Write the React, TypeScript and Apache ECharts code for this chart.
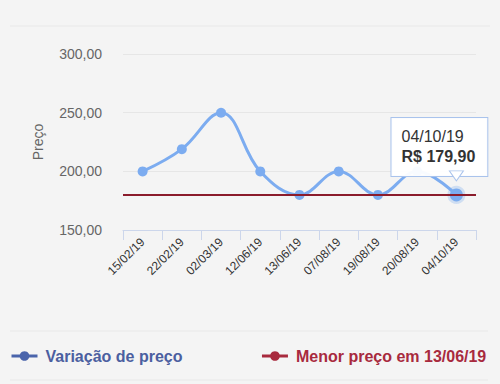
import React, { useEffect, useRef } from "react";
import * as echarts from "echarts";

const categories = ["15/02/19", "22/02/19", "02/03/19", "12/06/19", "13/06/19", "07/08/19", "19/08/19", "20/08/19", "04/10/19"];
const prices = [199.9, 218.9, 249.9, 199.9, 179.9, 199.9, 179.9, 199.9, 179.9];
const lowestPrice = 179.9;
const yTicks = [150, 200, 250, 300];
const seriesNames = ["Variação de preço", "Menor preço em 13/06/19"];

const FONT = "'Liberation Sans', Arial, sans-serif";
const fmt = (v: number) => v.toFixed(2).replace(".", ",");

export default function App() {
  const ref = useRef<HTMLDivElement>(null);
  useEffect(() => {
    const chart = echarts.init(ref.current!, null, { renderer: "svg" });
    const last = prices.length - 1;
    const data = prices.map((v, i) =>
      i === last
        ? {
            value: v,
            symbolSize: 13,
            itemStyle: { color: "#7cacf0", borderColor: "rgba(124,172,240,0.3)", borderWidth: 5 },
            label: {
              show: true,
              position: "top",
              offset: [-17, -5],
              formatter: () => `{d|${categories[i]}}\n{v|R$ ${fmt(v)}}`,
              backgroundColor: "rgba(255,255,255,0.95)",
              borderColor: "#a9c3ec",
              borderWidth: 1,
              padding: [9, 12, 9, 10],
              align: "center",
              rich: {
                d: { fontFamily: FONT, fontSize: 16, color: "#333", lineHeight: 20, align: "left" },
                v: { fontFamily: FONT, fontSize: 16, fontWeight: "bold", color: "#333", lineHeight: 20, align: "left" },
              },
            },
          }
        : v
    );
    chart.setOption({
      animation: false,
      backgroundColor: "#f4f4f4",
      textStyle: { fontFamily: FONT },
      grid: { left: 123, right: 24, top: 54, bottom: 154 },
      xAxis: {
        type: "category",
        data: categories,
        boundaryGap: true,
        axisLine: { lineStyle: { color: "#ccd6eb" } },
        axisTick: { show: true, length: 10, lineStyle: { color: "#ccd6eb" } },
        axisLabel: { rotate: 45, fontSize: 12, color: "#333", margin: 10, fontFamily: FONT },
      },
      yAxis: {
        type: "value",
        min: yTicks[0],
        max: yTicks[yTicks.length - 1],
        interval: 50,
        name: "Preço",
        nameLocation: "middle",
        nameGap: 78,
        nameTextStyle: { fontSize: 14, color: "#666", fontFamily: FONT },
        axisLabel: { formatter: (v: number) => fmt(v), fontSize: 14, color: "#666", margin: 21, fontFamily: FONT },
        splitLine: { lineStyle: { color: "#e6e6e6" } },
        axisLine: { show: false },
        axisTick: { show: false },
      },
      legend: {
        left: 5,
        top: 343,
        itemGap: 78,
        itemWidth: 26,
        itemHeight: 12,
        textStyle: { fontSize: 16, fontWeight: "bold", fontFamily: FONT, padding: [0, 0, 0, 3] },
        data: [
          { name: seriesNames[0], itemStyle: { color: "#4a64ab" }, lineStyle: { color: "#4a64ab", width: 3 }, textStyle: { color: "#4b5fa0" } },
          { name: seriesNames[1], itemStyle: { color: "#a82a3e" }, lineStyle: { color: "#a82a3e", width: 3 }, textStyle: { color: "#a82a3e" } },
        ],
      },
      graphic: [
        { type: "line", shape: { x1: 10, y1: 26, x2: 490, y2: 26 }, style: { stroke: "#e8e8e8", lineWidth: 1 } },
        { type: "line", shape: { x1: 10, y1: 331, x2: 488, y2: 331 }, style: { stroke: "#e8e8e8", lineWidth: 1 } },
        { type: "line", shape: { x1: 10, y1: 380, x2: 488, y2: 380 }, style: { stroke: "#e8e8e8", lineWidth: 1 } },
      ],
      series: [
        {
          name: seriesNames[1],
          type: "line",
          data: [],
          symbol: "circle",
          symbolSize: 10,
          color: "#8b1c2c",
          markLine: {
            silent: true,
            symbol: "none",
            label: { show: false },
            lineStyle: { color: "#8b1c2c", width: 2, type: "solid" },
            data: [{ yAxis: lowestPrice }],
          },
          z: 1,
        },
        {
          name: seriesNames[0],
          type: "line",
          smooth: 0.4,
          data,
          color: "#7cacf0",
          symbol: "circle",
          symbolSize: 10,
          lineStyle: { width: 3, color: "#7cacf0" },
          itemStyle: { color: "#7cacf0" },
          z: 3,
          markPoint: {
            symbol: "path://M0,0 L14,0 L7,10 Z",
            symbolSize: [14, 10],
            symbolOffset: [0, -19],
            itemStyle: { color: "#ffffff", borderColor: "#a9c3ec", borderWidth: 1 },
            label: { show: false },
            data: [{ coord: [categories[last], prices[last]] }],
          },
        },
      ],
    });
    return () => chart.dispose();
  }, []);
  return <div ref={ref} style={{ position: "absolute", left: 0, top: 0, width: 500, height: 384 }} />;
}
